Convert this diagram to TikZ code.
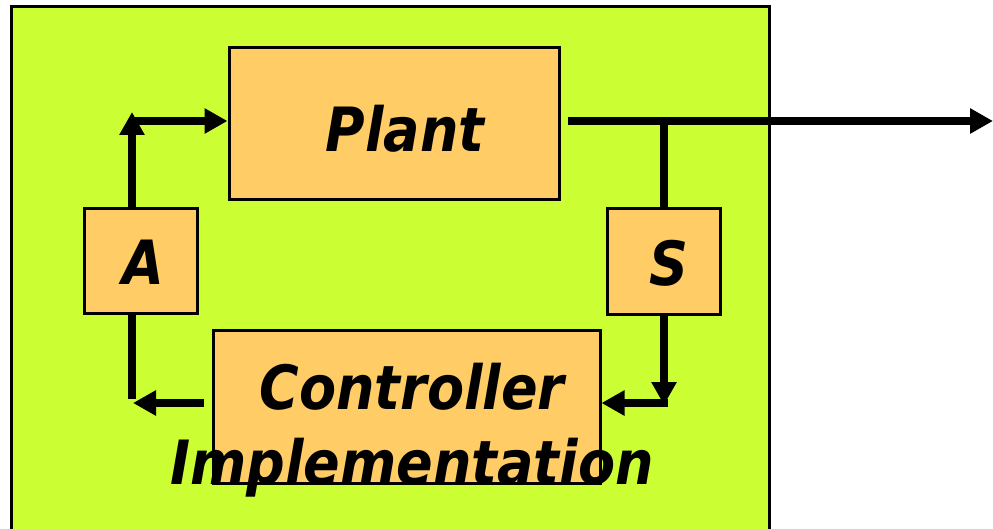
\documentclass[tikz,border=0pt]{standalone}
\usepackage{graphicx}
\usepackage{fontspec}
\setmainfont{DejaVu Sans}
\usetikzlibrary{arrows.meta}
\definecolor{panelgreen}{HTML}{CCFF33}
\definecolor{boxorange}{HTML}{FFCC66}
\newcommand{\tallword}[1]{\scalebox{1}[1.13]{#1}}
\tikzset{
  block/.style={draw=black, line width=3pt, fill=boxorange, inner sep=0pt},
  label/.style={anchor=base, inner sep=0pt, font=\fontsize{54}{60}\selectfont\bfseries\itshape},
  conn/.style={draw=black, line width=8pt},
  tip/.style={-{Triangle[width=24pt,length=23pt]}}
}
\begin{document}
\begin{tikzpicture}[x=1pt,y=-1pt]
  \useasboundingbox (0,0) rectangle (993,529);
  % background panel (its lower edge runs off the page)
  \draw[line width=3pt, fill=panelgreen] (11,7) rectangle (769,545);

  % blocks
  \node[block, minimum width=330pt, minimum height=152pt] (plant) at (394,124) {};
  \node[block, minimum width=113pt, minimum height=104pt] (act) at (140.5,261) {};
  \node[block, minimum width=113pt, minimum height=105pt] (sen) at (664,261.5) {};
  \node[block, minimum width=387pt, minimum height=153pt] (ctrl) at (406.5,406.5) {};

  % labels
  \node[label] (plantlbl) at (405,152) {\tallword{Plant}};
  \node[label] (actlbl) at (143,285) {\tallword{A}};
  \node[label] (senlbl) at (669,286) {\tallword{S}};
  \node[label] (ctrllbl1) at (412,409) {\tallword{Controller}};
  \node[label] (ctrllbl2) at (412,484) {\tallword{Implementation}};

  % routing points
  \coordinate (lup) at (132,112);
  \coordinate (lcorner) at (132,121);
  \coordinate (lbot) at (132,403);
  \coordinate (outstart) at (568,121);
  \coordinate (branch) at (664,121);
  \coordinate (out) at (993,121);
  \coordinate (rbot) at (664,403);

  % actuator to plant
  \draw[conn, tip] (act.north -| lcorner) -- (lup);
  \draw[conn, tip] (lcorner) -- (plant.west |- lcorner);

  % plant output and sensor feedback
  \draw[conn, tip] (outstart) -- (out);
  \draw[conn] (branch) -- (sen.north);
  \draw[conn, tip] (sen.south) -- ([yshift=-2pt]rbot);
  \draw[conn, tip] ([xshift=4pt]rbot) -- (ctrl.east |- rbot);

  % controller to actuator
  \draw[conn] (act.south -| lbot) -- ([yshift=4pt]lbot);
  \draw[conn, tip] ([xshift=-8pt]ctrl.west |- lbot) -- ([xshift=1pt]lbot);
\end{tikzpicture}
\end{document}
